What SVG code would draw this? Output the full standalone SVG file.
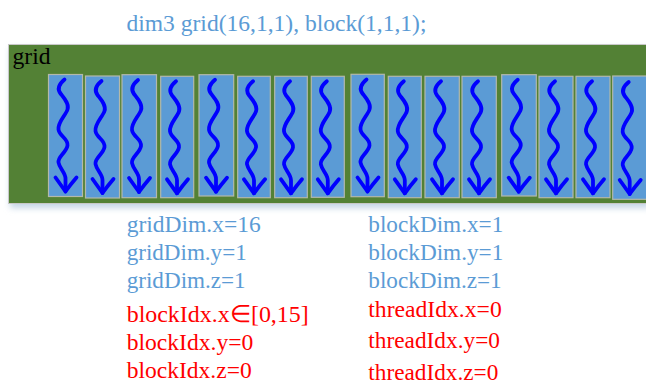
<svg xmlns="http://www.w3.org/2000/svg" xmlns:xlink="http://www.w3.org/1999/xlink" width="646" height="385" viewBox="0 0 646 385">
<style>
  .t { font-family: "Liberation Serif", "Times New Roman", serif; font-size: 23.5px; }
  .blue { fill: #5b9bd5; }
  .red { fill: #ff0000; }
  .blk { fill: #5b9bd5; stroke: #b3b9aa; stroke-width: 1.2; }
  .thr { fill: none; stroke: #0000ff; stroke-width: 3.8; stroke-linecap: round; stroke-linejoin: round; }
</style>
<defs>
  <filter id="sh" x="-5%" y="-20%" width="110%" height="140%">
    <feGaussianBlur stdDeviation="3"/>
  </filter>
  <g id="thread">
    <path class="thr" d="M16,5 C10,10 9,15 12,19 S21,29 19,35 S9,48 10,55 S20,64 19,71 S9,82 10,88 S17,98 17,104 L17,117"/>
    <path class="thr" d="M7,103 Q12,110 17,117 Q22,110 28,103"/>
  </g>
</defs>
<rect width="646" height="385" fill="#ffffff"/>
<g id="title">
  <text class="t blue" x="126.5" y="30.5" textLength="300" lengthAdjust="spacingAndGlyphs">dim3 grid(16,1,1), block(1,1,1);</text>
</g>
<g id="grid">
  <rect x="10" y="48" width="640" height="160" fill="#c5d5e6" filter="url(#sh)"/>
  <rect x="8.5" y="44.5" width="645" height="159" fill="#538135" stroke="#c8c8c8" stroke-width="1"/>
  <text class="t" x="12.5" y="63.5" fill="#000000" textLength="38" lengthAdjust="spacingAndGlyphs">grid</text>
</g>
<g id="block0"><rect class="blk" x="48.5" y="74.5" width="34" height="122"/><use xlink:href="#thread" transform="translate(48.5,74.5)"/></g>
<g id="block1"><rect class="blk" x="85.5" y="76" width="34" height="122"/><use xlink:href="#thread" transform="translate(85.5,76)"/></g>
<g id="block2"><rect class="blk" x="122" y="74.7" width="34.5" height="123"/><use xlink:href="#thread" transform="translate(122,75)"/></g>
<g id="block3"><rect class="blk" x="160.7" y="76.3" width="33" height="121.4"/><use xlink:href="#thread" transform="translate(160,76.3)"/></g>
<g id="block4"><rect class="blk" x="199" y="74.7" width="34.7" height="121.3"/><use xlink:href="#thread" transform="translate(199,74.7)"/></g>
<g id="block5"><rect class="blk" x="237.7" y="76.3" width="32.6" height="121.4"/><use xlink:href="#thread" transform="translate(237,76.3)"/></g>
<g id="block6"><rect class="blk" x="274.7" y="76.3" width="32.6" height="121.4"/><use xlink:href="#thread" transform="translate(274,76.3)"/></g>
<g id="block7"><rect class="blk" x="311.3" y="76.3" width="33" height="121"/><use xlink:href="#thread" transform="translate(310.8,76.3)"/></g>
<g id="block8"><rect class="blk" x="351" y="74.3" width="33.3" height="122.4"/><use xlink:href="#thread" transform="translate(350.5,74.5)"/></g>
<g id="block9"><rect class="blk" x="388.3" y="76.3" width="33" height="121.4"/><use xlink:href="#thread" transform="translate(387.8,76.3)"/></g>
<g id="block10"><rect class="blk" x="425" y="76.3" width="34.3" height="121.4"/><use xlink:href="#thread" transform="translate(425,76.3)"/></g>
<g id="block11"><rect class="blk" x="462" y="76.3" width="34.3" height="121.4"/><use xlink:href="#thread" transform="translate(462,76.3)"/></g>
<g id="block12"><rect class="blk" x="501.7" y="74.7" width="34.6" height="121.3"/><use xlink:href="#thread" transform="translate(501.7,74.7)"/></g>
<g id="block13"><rect class="blk" x="539" y="76.3" width="34" height="121.4"/><use xlink:href="#thread" transform="translate(539,76.3)"/></g>
<g id="block14"><rect class="blk" x="576" y="76.3" width="34" height="121.4"/><use xlink:href="#thread" transform="translate(576,76.3)"/></g>
<g id="block15"><rect class="blk" x="612.7" y="76" width="34" height="123.3"/><use xlink:href="#thread" transform="translate(612.7,77)"/></g>
<g id="gridDim">
  <text class="t blue" x="126.7" y="231.5" textLength="134" lengthAdjust="spacingAndGlyphs">gridDim.x=16</text>
  <text class="t blue" x="126.7" y="260" textLength="120" lengthAdjust="spacingAndGlyphs">gridDim.y=1</text>
  <text class="t blue" x="126.7" y="288" textLength="119" lengthAdjust="spacingAndGlyphs">gridDim.z=1</text>
</g>
<g id="blockIdx">
  <text class="t red" x="126.7" y="321.5" textLength="182" lengthAdjust="spacingAndGlyphs">blockIdx.x∈[0,15]</text>
  <text class="t red" x="126.7" y="350" textLength="126.6" lengthAdjust="spacingAndGlyphs">blockIdx.y=0</text>
  <text class="t red" x="126.7" y="378" textLength="125" lengthAdjust="spacingAndGlyphs">blockIdx.z=0</text>
</g>
<g id="blockDim">
  <text class="t blue" x="368.3" y="231.5" textLength="135" lengthAdjust="spacingAndGlyphs">blockDim.x=1</text>
  <text class="t blue" x="368.3" y="260" textLength="135" lengthAdjust="spacingAndGlyphs">blockDim.y=1</text>
  <text class="t blue" x="368.3" y="288" textLength="133.4" lengthAdjust="spacingAndGlyphs">blockDim.z=1</text>
</g>
<g id="threadIdx">
  <text class="t red" x="368.3" y="316.5" textLength="133.4" lengthAdjust="spacingAndGlyphs">threadIdx.x=0</text>
  <text class="t red" x="368.3" y="348" textLength="131.7" lengthAdjust="spacingAndGlyphs">threadIdx.y=0</text>
  <text class="t red" x="368.3" y="380" textLength="130" lengthAdjust="spacingAndGlyphs">threadIdx.z=0</text>
</g>
</svg>
